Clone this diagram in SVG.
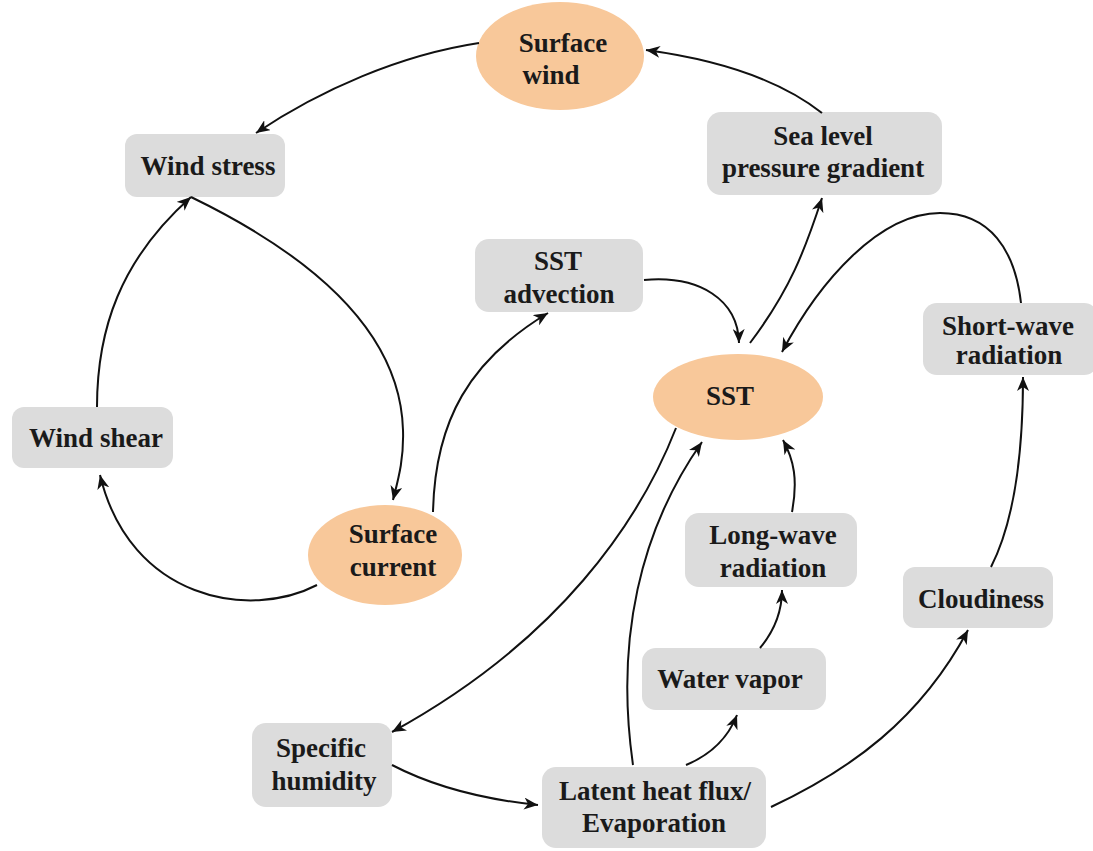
<svg xmlns="http://www.w3.org/2000/svg" width="1093" height="851" viewBox="0 0 1093 851">
<defs>
<style>
.box{fill:#dcdcdc;}
.ell{fill:#f8c89a;}
text{font-family:"Liberation Serif","Times New Roman",serif;font-weight:bold;font-size:27px;fill:#1a1a1a;text-anchor:middle;}
.c path{fill:none;stroke:#111;stroke-width:2;marker-end:url(#ah);}
</style>
<marker id="ah" markerUnits="userSpaceOnUse" markerWidth="16" markerHeight="12" refX="14" refY="6" orient="auto" viewBox="0 0 16 12">
<path d="M0,0 L14,6 L0,12 L4,6 z" fill="#111"/>
</marker>
</defs>
<rect width="1093" height="851" fill="#fff"/>

<g id="surface-wind"><ellipse class="ell" cx="560" cy="56" rx="84" ry="54"/><text x="563" y="52">Surface</text><text x="551" y="84">wind</text></g>
<g id="wind-stress"><rect class="box" x="125" y="134" width="160" height="63" rx="12"/><text x="208" y="175">Wind stress</text></g>
<g id="sea-level"><rect class="box" x="707" y="112" width="235" height="83" rx="14"/><text x="823" y="145">Sea level</text><text x="823" y="177">pressure gradient</text></g>
<g id="sst-advection"><rect class="box" x="475" y="239" width="168" height="73" rx="14"/><text x="558" y="270">SST</text><text x="559" y="303">advection</text></g>
<g id="short-wave"><rect class="box" x="923" y="303" width="175" height="72" rx="14"/><text x="1008" y="335">Short-wave</text><text x="1009" y="364">radiation</text></g>
<g id="sst"><ellipse class="ell" cx="738" cy="397" rx="85" ry="43"/><text x="730" y="405">SST</text></g>
<g id="wind-shear"><rect class="box" x="12" y="407" width="161" height="61" rx="12"/><text x="96" y="447">Wind shear</text></g>
<g id="surface-current"><ellipse class="ell" cx="385" cy="555" rx="77" ry="50"/><text x="393" y="543">Surface</text><text x="393" y="576">current</text></g>
<g id="long-wave"><rect class="box" x="685" y="513" width="172" height="74" rx="14"/><text x="773" y="544">Long-wave</text><text x="773" y="577">radiation</text></g>
<g id="cloudiness"><rect class="box" x="903" y="567" width="150" height="61" rx="12"/><text x="981" y="608">Cloudiness</text></g>
<g id="water-vapor"><rect class="box" x="642" y="648" width="184" height="62" rx="14"/><text x="730" y="688">Water vapor</text></g>
<g id="specific-humidity"><rect class="box" x="252" y="723" width="140" height="84" rx="14"/><text x="321" y="757">Specific</text><text x="324" y="790">humidity</text></g>
<g id="latent-heat"><rect class="box" x="542" y="767" width="224" height="81" rx="14"/><text x="655" y="800">Latent heat flux/</text><text x="654" y="832">Evaporation</text></g>

<g id="connectors" class="c">
<path d="M479,43 C400,55 320,90 256,133"/>
<path d="M822,113 C780,80 720,60 646,50"/>
<path d="M750,343 C790,290 805,250 822,198"/>
<path d="M1021,303 C1015,250 990,213 940,213 C880,213 820,280 782,352"/>
<path d="M644,280 C700,275 738,300 739,343"/>
<path d="M191,197 C290,245 400,320 403,430 C404,460 398,480 393,500"/>
<path d="M97,407 C97,330 120,260 191,197"/>
<path d="M317,585 C250,620 130,600 100,475"/>
<path d="M433,512 C435,420 470,360 548,313"/>
<path d="M676,428 C640,520 560,640 392,732"/>
<path d="M392,765 C440,790 490,800 538,805"/>
<path d="M633,765 C615,640 640,530 702,442"/>
<path d="M686,765 C710,755 728,738 737,715"/>
<path d="M760,648 C775,630 782,610 782,590"/>
<path d="M792,512 C798,480 794,460 783,440"/>
<path d="M771,807 C850,770 920,720 968,630"/>
<path d="M991,567 C1015,520 1023,450 1023,377"/>
</g>
</svg>
